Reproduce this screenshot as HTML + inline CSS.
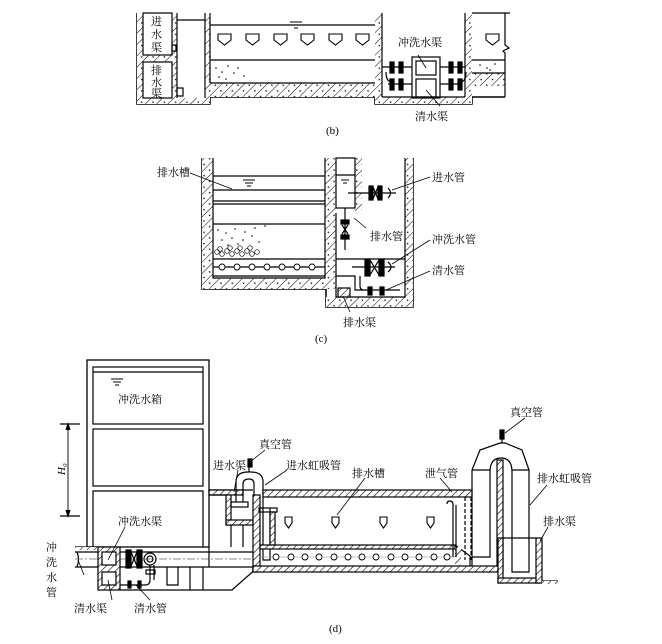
<!DOCTYPE html>
<html><head><meta charset="utf-8"><style>
html,body{margin:0;padding:0;background:#fff}
svg{display:block}
text{font-family:"Liberation Serif","Noto Serif CJK SC","Noto Sans CJK SC",serif;font-size:11px;fill:#000}
</style></head><body>
<svg width="662" height="644" viewBox="0 0 662 644" xmlns="http://www.w3.org/2000/svg">
<defs>
<pattern id="h" width="5" height="5" patternUnits="userSpaceOnUse" patternTransform="rotate(45)">
<rect width="5" height="5" fill="#fff"/><line x1="0" y1="0" x2="0" y2="5" stroke="#000" stroke-width="1.2"/>
</pattern>
<pattern id="c" width="8" height="8" patternUnits="userSpaceOnUse" patternTransform="rotate(45)">
<rect width="8" height="8" fill="#fff"/><line x1="0" y1="0" x2="0" y2="8" stroke="#000" stroke-width="1"/><circle cx="4.5" cy="4" r="0.8" fill="#000"/>
</pattern>
</defs>
<g stroke="#000" fill="none" stroke-width="1.2">
<!-- ===== (b) ===== -->
<path d="M137,13 V104 H210 V97 H375 V104 H472 V97 H505" stroke-width="1.5"/>
<rect x="137" y="13" width="6" height="91" fill="url(#c)" stroke="none"/>
<rect x="137" y="98" width="73" height="6" fill="url(#c)" stroke="none"/>
<rect x="143" y="55" width="29" height="7" fill="url(#c)" stroke="none"/>
<rect x="172" y="13" width="5" height="85" fill="url(#c)" stroke="none"/>
<rect x="205" y="13" width="5" height="91" fill="url(#c)" stroke="none"/>
<rect x="143" y="13" width="29" height="42"/>
<rect x="143" y="62" width="29" height="36"/>
<line x1="177" y1="13" x2="177" y2="98"/><line x1="205" y1="13" x2="205" y2="98"/>
<line x1="177" y1="20" x2="205" y2="20"/>
<rect x="172" y="45" width="4" height="6"/><rect x="177" y="88" width="6" height="8"/>
<rect x="210" y="83" width="165" height="14" fill="url(#c)" stroke="none"/>
<line x1="210" y1="83" x2="375" y2="83"/>
<line x1="210" y1="25" x2="375" y2="25"/><line x1="210" y1="60" x2="375" y2="60"/>
<line x1="210" y1="13" x2="210" y2="83"/>
<path d="M290,22 h12 M292,25 h8 M294,28 h4" stroke-width="1"/>
<g stroke-width="1.1">
<path d="M218,34 h13 v6 l-6.5,5 l-6.5,-5 z"/><path d="M246,34 h13 v6 l-6.5,5 l-6.5,-5 z"/>
<path d="M274,34 h13 v6 l-6.5,5 l-6.5,-5 z"/><path d="M301,34 h13 v6 l-6.5,5 l-6.5,-5 z"/>
<path d="M329,34 h13 v6 l-6.5,5 l-6.5,-5 z"/><path d="M356,34 h13 v6 l-6.5,5 l-6.5,-5 z"/>
<path d="M486,34 h13 v6 l-6.5,5 l-6.5,-5 z"/>
</g>
<rect x="375" y="13" width="7" height="91" fill="url(#c)" stroke="none"/>
<rect x="375" y="97" width="97" height="7" fill="url(#c)" stroke="none"/>
<rect x="465" y="13" width="7" height="91" fill="url(#c)" stroke="none"/>
<line x1="382" y1="13" x2="382" y2="97"/><line x1="465" y1="13" x2="465" y2="97"/><line x1="382" y1="97" x2="465" y2="97"/>
<rect x="412" y="57" width="28" height="41"/>
<rect x="416" y="61" width="20" height="14"/><rect x="416" y="79" width="20" height="18"/>
<line x1="382" y1="67" x2="412" y2="67"/><line x1="440" y1="67" x2="465" y2="67"/>
<line x1="388" y1="84" x2="412" y2="84"/><line x1="440" y1="84" x2="460" y2="84"/>
<g fill="#000"><rect x="390" y="62" width="4" height="11"/><rect x="399" y="62" width="4" height="11"/><rect x="449" y="62" width="4" height="11"/><rect x="458" y="62" width="4" height="11"/>
<rect x="390" y="79" width="4" height="11"/><rect x="399" y="79" width="4" height="11"/><rect x="449" y="79" width="4" height="11"/><rect x="458" y="79" width="4" height="11"/></g>
<path d="M386,72 q0,10 6,10 M466,72 q0,10 -6,10"/>
<rect x="472" y="73" width="33" height="13" fill="url(#c)" stroke="none"/>
<line x1="472" y1="60" x2="505" y2="60"/><line x1="472" y1="73" x2="505" y2="73"/>
<line x1="472" y1="13" x2="510" y2="13"/>
<path d="M505,13 V45 l4,3 l-6,3 l2,2 V97"/>
<line x1="426" y1="68" x2="418" y2="55" stroke-width="0.8"/>
<line x1="426" y1="90" x2="440" y2="106" stroke-width="0.8"/>
<g fill="#000" stroke="none"><circle cx="216" cy="68" r="0.8"/><circle cx="222" cy="72" r="0.8"/><circle cx="228" cy="66" r="0.8"/><circle cx="234" cy="73" r="0.8"/><circle cx="219" cy="77" r="0.8"/><circle cx="238" cy="68" r="0.8"/><circle cx="244" cy="76" r="0.8"/><circle cx="226" cy="79" r="0.8"/><circle cx="480" cy="65" r="0.8"/><circle cx="487" cy="68" r="0.8"/><circle cx="495" cy="64" r="0.8"/><circle cx="490" cy="70" r="0.8"/></g>

<!-- ===== (c) ===== -->
<path d="M202,158 V289 H326 V307 H413 V158" stroke-width="1.5"/>
<rect x="202" y="158" width="11" height="131" fill="url(#c)" stroke="none"/>
<rect x="202" y="278" width="124" height="11" fill="url(#c)" stroke="none"/>
<rect x="325" y="158" width="11" height="131" fill="url(#c)" stroke="none"/>
<rect x="326" y="297" width="87" height="10" fill="url(#c)" stroke="none"/>
<rect x="405" y="158" width="8" height="149" fill="url(#c)" stroke="none"/>
<rect x="355" y="158" width="7" height="55" fill="url(#c)" stroke="none"/>
<path d="M213,158 V278 H325 V158 M336,213 V297 H405 V158"/>
<line x1="213" y1="176" x2="325" y2="176"/><line x1="213" y1="190" x2="325" y2="190"/>
<line x1="213" y1="201" x2="325" y2="201"/><line x1="213" y1="204" x2="325" y2="204"/>
<line x1="213" y1="224" x2="325" y2="224"/><line x1="213" y1="259" x2="325" y2="259"/><line x1="213" y1="276" x2="325" y2="276"/>
<path d="M243,180 h12 M245,183 h8 M247,186 h4" stroke-width="1"/>
<line x1="213" y1="267" x2="325" y2="267"/>
<g stroke-width="0.9" fill="#fff"><circle cx="222" cy="267" r="3"/><circle cx="237" cy="267" r="3"/><circle cx="252" cy="267" r="3"/><circle cx="267" cy="267" r="3"/><circle cx="282" cy="267" r="3"/><circle cx="297" cy="267" r="3"/><circle cx="312" cy="267" r="3"/></g>
<g stroke-width="0.7"><circle cx="217" cy="252" r="2.3"/><circle cx="222" cy="254" r="2.3"/><circle cx="227" cy="251" r="2.3"/><circle cx="232" cy="254" r="2.3"/><circle cx="237" cy="251" r="2.3"/><circle cx="242" cy="254" r="2.3"/><circle cx="247" cy="251" r="2.3"/><circle cx="252" cy="254" r="2.3"/><circle cx="257" cy="252" r="2.3"/><circle cx="220" cy="249" r="2.3"/><circle cx="230" cy="248" r="2.3"/><circle cx="240" cy="248" r="2.3"/><circle cx="250" cy="248" r="2.3"/></g>
<g fill="#000" stroke="none"><circle cx="218" cy="230" r="0.8"/><circle cx="226" cy="233" r="0.8"/><circle cx="235" cy="229" r="0.8"/><circle cx="245" cy="232" r="0.8"/><circle cx="255" cy="228" r="0.8"/><circle cx="265" cy="226" r="0.8"/><circle cx="222" cy="240" r="0.8"/><circle cx="232" cy="238" r="0.8"/><circle cx="243" cy="240" r="0.8"/><circle cx="252" cy="236" r="0.8"/><circle cx="259" cy="242" r="0.8"/><circle cx="228" cy="245" r="0.8"/><circle cx="238" cy="244" r="0.8"/></g>
<rect x="336" y="158" width="19" height="50"/>
<line x1="336" y1="175" x2="355" y2="175"/>
<path d="M341,180 h8 M343,183 h4" stroke-width="1"/>
<line x1="348" y1="193" x2="396" y2="193"/>
<rect x="369" y="186" width="4" height="14" fill="#000"/><rect x="378" y="186" width="4" height="14" fill="#000"/>
<path d="M373,187 l5,12 M373,199 l5,-12"/>
<path d="M388,188 q5,5 0,10"/>
<line x1="345" y1="208" x2="345" y2="250"/>
<rect x="341" y="220" width="8" height="4" fill="#000"/><rect x="341" y="235" width="8" height="4" fill="#000"/>
<path d="M342,225 l6,9 M342,234 l6,-9"/>
<line x1="336" y1="259" x2="405" y2="259"/>
<line x1="352" y1="267" x2="395" y2="267"/>
<rect x="365" y="259" width="5" height="17" fill="#000"/><rect x="379" y="259" width="5" height="17" fill="#000"/>
<path d="M370,260 l9,15 M370,275 l9,-15"/>
<path d="M388,262 q6,5 0,10"/>
<path d="M336,276 H355 V290 H400 M360,276 V286 q0,4 4,4"/>
<rect x="368" y="287" width="4" height="8" fill="#000"/><rect x="380" y="287" width="4" height="8" fill="#000"/>
<rect x="338" y="288" width="12" height="9" fill="url(#h)"/>
<g stroke-width="0.8">
<line x1="190" y1="173" x2="232" y2="189"/>
<line x1="430" y1="177" x2="392" y2="190"/>
<line x1="366" y1="228" x2="354" y2="218"/>
<line x1="430" y1="240" x2="392" y2="264"/>
<line x1="430" y1="271" x2="386" y2="290"/>
<line x1="350" y1="312" x2="343" y2="296"/>
</g>

<!-- ===== (d) ===== -->
<rect x="87" y="360" width="122" height="187" stroke-width="1.3"/>
<rect x="93" y="367" width="110" height="57"/>
<line x1="93" y1="372" x2="203" y2="372"/>
<rect x="93" y="429" width="110" height="57"/>
<path d="M93,547 V491 H203 V547"/>
<path d="M111,379 h12 M113,382 h8 M115,385 h4" stroke-width="1"/>
<line x1="68" y1="424" x2="68" y2="516" stroke-width="0.9"/>
<line x1="60" y1="424" x2="80" y2="424"/><line x1="60" y1="516" x2="80" y2="516"/>
<path d="M66,510 l2,6 l2,-6 M66,430 l2,-6 l2,6" fill="#000"/>
<line x1="75" y1="547" x2="98" y2="547"/>
<rect x="75" y="547" width="23" height="3" fill="url(#h)" stroke="none"/>
<line x1="75" y1="552" x2="98" y2="552"/><line x1="75" y1="567" x2="98" y2="567"/>
<path d="M77,552 q3,7 0,15"/>
<line x1="75" y1="559" x2="258" y2="559" stroke-dasharray="8,2,2,2" stroke-width="0.7" stroke="#666"/>
<rect x="98" y="547" width="22" height="43" fill="url(#h)"/>
<rect x="102" y="552" width="14" height="13" fill="#fff"/><rect x="102" y="572" width="14" height="13" fill="#fff"/>
<line x1="120" y1="552" x2="253" y2="552"/><line x1="120" y1="567" x2="253" y2="567"/>
<rect x="126" y="550" width="5" height="18" fill="#000"/><rect x="137" y="550" width="5" height="18" fill="#000"/>
<path d="M131,552 l6,14 M131,566 l6,-14"/>
<circle cx="150" cy="559" r="6"/><circle cx="150" cy="559" r="3"/>
<path d="M150,565 V580 q0,5 -5,5 H120 M154,565 V580"/>
<rect x="146" y="570" width="9" height="4"/>
<rect x="128" y="581" width="3" height="7" fill="#000"/><rect x="138" y="581" width="3" height="7" fill="#000"/>
<path d="M120,590 H232 L258,567"/>
<path d="M167,567 V585 H178 V567 M190,567 V590 M203,567 V590 M209,547 V567"/>
<path d="M209,490 H253" />
<rect x="209" y="490" width="34" height="5" fill="url(#h)"/>
<rect x="226" y="495" width="5" height="30" fill="url(#h)"/>
<rect x="226" y="520" width="27" height="5" fill="url(#h)"/>
<path d="M209,495 H226 M231,525 V547 M243,525 V547"/>
<rect x="253" y="495" width="7" height="77" fill="url(#h)"/>
<path d="M253,567 V572"/>
<path d="M236,502 V482 q0,-10 12,-10 h3 q12,0 12,10 V560 H270 V508"/>
<path d="M243,502 V484 q0,-5 6,-5 q5,0 5,5 V495"/>
<rect x="231" y="502" width="17" height="5"/><rect x="259" y="508" width="18" height="4"/>
<line x1="249" y1="472" x2="249" y2="462"/><rect x="248" y="459" width="4" height="8" fill="#000"/>
<rect x="270" y="512" width="5" height="33" fill="url(#h)"/>
<rect x="263" y="490" width="209" height="7" fill="url(#h)"/>
<rect x="260" y="545" width="195" height="4" fill="url(#h)"/>
<rect x="253" y="566" width="250" height="6" fill="url(#h)"/>
<path d="M455,545 L470,556 V566" />
<rect x="455" y="547" width="6" height="18" fill="url(#h)" stroke="none"/>
<line x1="260" y1="557" x2="455" y2="557" stroke-width="0.6" stroke="#888"/>
<g stroke-width="0.9" fill="#fff"><circle cx="276" cy="557" r="3"/><circle cx="291" cy="557" r="3"/><circle cx="305" cy="557" r="3"/><circle cx="319" cy="557" r="3"/><circle cx="334" cy="557" r="3"/><circle cx="348" cy="557" r="3"/><circle cx="362" cy="557" r="3"/><circle cx="376" cy="557" r="3"/><circle cx="391" cy="557" r="3"/><circle cx="405" cy="557" r="3"/><circle cx="419" cy="557" r="3"/><circle cx="434" cy="557" r="3"/><circle cx="447" cy="557" r="3"/></g>
<g stroke-width="1.1"><path d="M285,517 h7 v6 l-3.5,5 l-3.5,-5 z"/><path d="M332,517 h7 v6 l-3.5,5 l-3.5,-5 z"/><path d="M380,517 h7 v6 l-3.5,5 l-3.5,-5 z"/><path d="M427,517 h7 v6 l-3.5,5 l-3.5,-5 z"/></g>
<path d="M453,557 V505 q0,-4 -3,-4 q-3,0 -3,3 M456,557 V505"/>
<line x1="465" y1="497" x2="465" y2="560" stroke-dasharray="4,2"/>
<line x1="471" y1="497" x2="471" y2="560" stroke-dasharray="4,2"/>
<path d="M472,566 V470 L480,450 L500,443 H505 L522,450 L529,470 V572 H512 V472 q0,-14 -11,-14 q-11,0 -11,14 V557 H472"/>
<line x1="472" y1="470" x2="490" y2="470"/><line x1="512" y1="470" x2="529" y2="470"/>
<rect x="497" y="460" width="6" height="106" fill="url(#h)"/>
<line x1="502" y1="443" x2="502" y2="430"/><rect x="500" y="430" width="4" height="9" fill="#000"/>
<rect x="498" y="538" width="5" height="45" fill="url(#h)"/>
<rect x="498" y="578" width="42" height="5" fill="url(#h)"/>
<rect x="536" y="538" width="6" height="45" fill="url(#h)"/>
<path d="M503,538 H536"/>
<line x1="542" y1="581" x2="558" y2="581"/>
<rect x="542" y="581" width="16" height="3" fill="url(#h)" stroke="none"/>
<g stroke-width="0.8">
<line x1="84" y1="575" x2="78" y2="560"/>
<line x1="112" y1="600" x2="108" y2="580"/>
<line x1="150" y1="600" x2="136" y2="585"/>
<line x1="125" y1="527" x2="108" y2="560"/>
<line x1="265" y1="450" x2="250" y2="462"/>
<line x1="238" y1="470" x2="234" y2="492"/>
<line x1="287" y1="470" x2="265" y2="485"/>
<line x1="365" y1="478" x2="337" y2="515"/>
<line x1="440" y1="478" x2="452" y2="492"/>
<line x1="525" y1="418" x2="505" y2="433"/>
<line x1="547" y1="485" x2="530" y2="505"/>
<line x1="548" y1="527" x2="540" y2="541"/>
</g>
</g>
<g>
<text x="151" y="25">进</text><text x="151" y="38">水</text><text x="151" y="51">渠</text>
<text x="151" y="74">排</text><text x="151" y="86">水</text><text x="151" y="97">渠</text>
<text x="398" y="46">冲洗水渠</text>
<text x="415" y="120">清水渠</text>
<text x="326" y="134">(b)</text>
<text x="157" y="176">排水槽</text>
<text x="432" y="181">进水管</text>
<text x="370" y="240">排水管</text>
<text x="432" y="243">冲洗水管</text>
<text x="432" y="274">清水管</text>
<text x="343" y="326">排水渠</text>
<text x="315" y="342">(c)</text>
<text x="118" y="403">冲洗水箱</text>
<text x="118" y="525">冲洗水渠</text>
<text x="46" y="551">冲</text><text x="46" y="566">洗</text><text x="46" y="581">水</text><text x="46" y="596">管</text>
<text x="74" y="612">清水渠</text>
<text x="134" y="612">清水管</text>
<text x="259" y="448">真空管</text>
<text x="213" y="469">进水渠</text>
<text x="286" y="469">进水虹吸管</text>
<text x="352" y="477">排水槽</text>
<text x="425" y="477">泄气管</text>
<text x="510" y="416">真空管</text>
<text x="537" y="482">排水虹吸管</text>
<text x="543" y="525">排水渠</text>
<text x="57" y="473" font-style="italic" transform="rotate(-90 62 470)">H₀</text>
<text x="329" y="632">(d)</text>
</g>
</svg>
</body></html>
